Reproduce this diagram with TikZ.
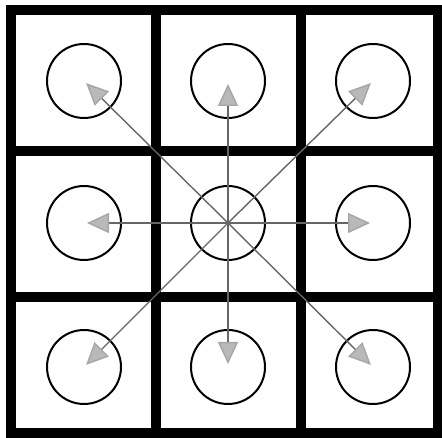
\documentclass[tikz,border=0pt]{standalone}
\usetikzlibrary{arrows.meta}
\begin{document}
\begin{tikzpicture}[x=1pt, y=-1pt,
    gridline/.style={line width=9.5pt, line cap=rect},
    cell/.style={circle, draw, line width=2pt, minimum size=74pt, inner sep=0pt},
    ray/.style={line width=1.4pt, black!60,
      -{Triangle[length=22pt, width=20pt, color=gray!70, fill=gray!55]},
      shorten >=3pt},
  ]

    % --- 1. 外枠 (描画範囲を固定) ---
    \useasboundingbox (0,0) rectangle (442,438);
    \fill[white] (0,0) rectangle (442,438);
    \draw[gridline] (11,10) rectangle (438,433);

    % --- 2. 内側の仕切り線 ---
    \draw[gridline] (156,10) -- (156,433);
    \draw[gridline] (301,10) -- (301,433);
    \draw[gridline] (11,151) -- (438,151);
    \draw[gridline] (11,297) -- (438,297);

    % --- 3. 各マスの円 ---
    \foreach \r/\y in {1/81, 2/223, 3/367}
      \foreach \c/\x in {1/84, 2/228, 3/373}
        \node[cell] (c\r\c) at (\x,\y) {};

    % --- 4. 中央から周囲への矢印 ---
    \foreach \t in {11,12,13,21,23,31,32,33}
      \draw[ray] (c22.center) -- (c\t.center);

\end{tikzpicture}
\end{document}
